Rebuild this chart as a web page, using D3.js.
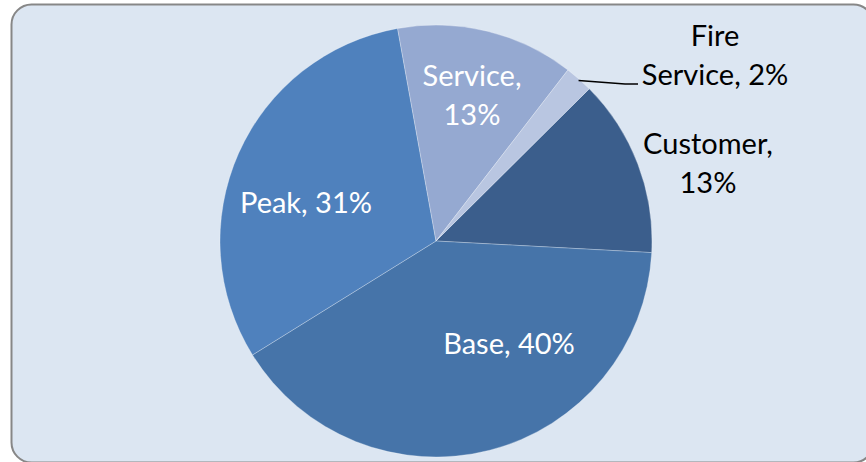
<!DOCTYPE html>
<html>
<head>
<meta charset="utf-8">
<script src="https://cdn.jsdelivr.net/npm/d3@7"></script>
<style>
  html, body { margin: 0; padding: 0; background: #ffffff; }
  svg { display: block; }
  text { font-family: Lato, "Open Sans", sans-serif; }
</style>
</head>
<body>
<svg id="chart" width="866" height="462"></svg>
<script>
// Data (clockwise order as drawn)
const categories = ["Customer", "Base", "Peak", "Service", "Fire Service"];
const values = [13.3, 40.3, 31.0, 13.3, 2.1];
const colors = ["#3B5E8C", "#4674A9", "#4F81BD", "#95A9D1", "#B9C6E1"];

// Label layout (relative to pie centre), line breaks
const labelLines = {
  "Customer": ["Customer,", "{p}"],
  "Base": ["Base, {p}"],
  "Peak": ["Peak, {p}"],
  "Service": ["Service,", "{p}"],
  "Fire Service": ["Fire", "Service, {p}"]
};
const labelPos = {
  "Customer": [272, -78, "#000"],
  "Base": [73, 103, "#fff"],
  "Peak": [-130, -38, "#fff"],
  "Service": [36, -146, "#fff"],
  "Fire Service": [279, -186, "#000"]
};

const svg = d3.select("#chart");

// Chart frame
svg.append("rect")
  .attr("x", 11.5).attr("y", 4.5)
  .attr("width", 862).attr("height", 458)
  .attr("rx", 20).attr("ry", 20)
  .attr("fill", "#DCE6F2")
  .attr("stroke", "#878787")
  .attr("stroke-width", 2);

const cx = 436, cy = 241, R = 216;
const g = svg.append("g").attr("transform", `translate(${cx},${cy})`);

const startDeg = 45.2;
const pie = d3.pie().sort(null).value(d => d.v)
  .startAngle(startDeg * Math.PI / 180)
  .endAngle((startDeg + 360) * Math.PI / 180);
const data = categories.map((c, i) => ({ c, v: values[i], col: colors[i] }));
const arcs = pie(data);
const total = d3.sum(values);

const arc = d3.arc().innerRadius(0).outerRadius(R);

g.selectAll("path.slice")
  .data(arcs)
  .enter().append("path")
  .attr("class", "slice")
  .attr("d", arc)
  .attr("fill", d => d.data.col)
  .attr("stroke", "rgba(255,255,255,0.35)")
  .attr("stroke-width", 0.8);

// Leader line for Fire Service
const fire = arcs[4];
const fireMid = (fire.startAngle + fire.endAngle) / 2;
const p0 = [Math.sin(fireMid) * (R - 2), -Math.cos(fireMid) * (R - 2)];
g.append("polyline")
  .attr("points", [[p0[0] + 1, p0[1]], [189, -157], [202, -157]].map(p => p.join(",")).join(" "))
  .attr("fill", "none")
  .attr("stroke", "#000")
  .attr("stroke-width", 1.6);

// Labels
const fs = 29, lh = 39;
arcs.forEach(a => {
  const name = a.data.c;
  const pct = Math.round(a.data.v / total * 100) + "%";
  const lines = labelLines[name].map(s => s.replace("{p}", pct));
  const [lx, ly, col] = labelPos[name];
  const t = g.append("text")
    .attr("text-anchor", "middle")
    .attr("fill", col)
    .attr("font-size", fs);
  const n = lines.length;
  lines.forEach((s, i) => {
    t.append("tspan")
      .attr("x", lx)
      .attr("y", ly + (i - (n - 1) / 2) * lh)
      .attr("dy", "0.35em")
      .text(s);
  });
});
</script>
</body>
</html>
